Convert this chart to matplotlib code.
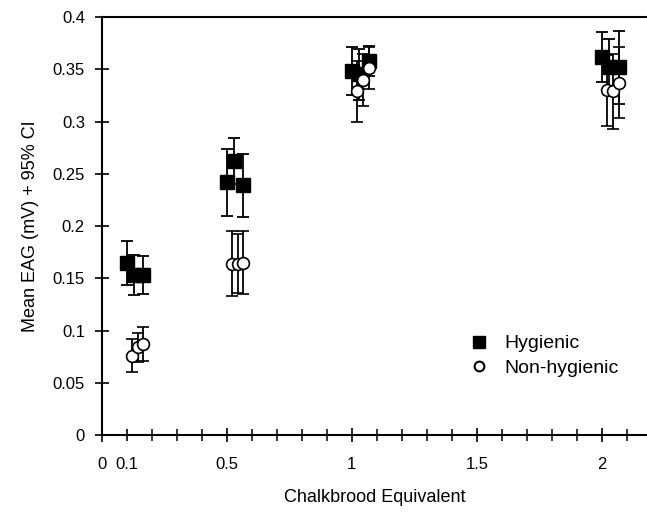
import numpy as np
import matplotlib.pyplot as plt
from matplotlib.lines import Line2D
from matplotlib.ticker import MultipleLocator, FormatStrFormatter

plt.rcParams['font.family'] = ['Liberation Sans', 'DejaVu Sans']

# chalkbrood equivalent levels, 3 replicates each (plotted side by side)
levels = [0.1, 0.5, 1, 2]
hyg_shift = [0.0, 0.03, 0.067]
nonhyg_shift = [0.022, 0.045, 0.067]

hyg_mean = [0.165, 0.153, 0.153, 0.242, 0.262, 0.239, 0.348, 0.345, 0.358, 0.362, 0.352, 0.352]
hyg_ci = [0.021, 0.019, 0.018, 0.032, 0.022, 0.030, 0.023, 0.024, 0.014, 0.024, 0.027, 0.035]

nonhyg_mean = [0.076, 0.084, 0.087, 0.164, 0.164, 0.165, 0.329, 0.340, 0.351, 0.330, 0.329, 0.337]
nonhyg_ci = [0.016, 0.014, 0.016, 0.031, 0.028, 0.030, 0.029, 0.025, 0.020, 0.034, 0.036, 0.034]

hyg_x = np.repeat(levels, 3) + np.tile(hyg_shift, len(levels))
nonhyg_x = np.repeat(levels, 3) + np.tile(nonhyg_shift, len(levels))

fig = plt.figure(figsize=(6.47, 5.15), dpi=100)
ax = fig.add_axes([0.157, 0.155, 0.843, 0.812])

ax.errorbar(hyg_x, hyg_mean, yerr=hyg_ci, fmt='s', color='black', ms=9.5,
            ecolor='black', elinewidth=1.3, capsize=4.5, capthick=1.3, zorder=2)
ax.errorbar(nonhyg_x, nonhyg_mean, yerr=nonhyg_ci, fmt='o', mfc='white', mec='black',
            mew=1.2, ms=8.5, ecolor='black', elinewidth=1.3, capsize=4.5, capthick=1.3,
            zorder=3)

ax.set_xlim(0, 2.18)
ax.set_ylim(0, 0.4)

ax.set_xticks([0, 0.1, 0.5, 1, 1.5, 2])
ax.set_xticklabels(['0', '0.1', '0.5', '1', '1.5', '2'])
ax.xaxis.set_minor_locator(MultipleLocator(0.1))
ax.yaxis.set_major_locator(MultipleLocator(0.05))
ax.yaxis.set_major_formatter(FormatStrFormatter('%g'))

ax.tick_params(axis='both', which='major', direction='inout', length=10, width=1.2,
               labelsize=12, colors='black')
ax.tick_params(axis='x', which='major', pad=11)
ax.tick_params(axis='y', which='major', pad=7)
ax.tick_params(axis='x', which='minor', direction='inout', length=8, width=1.1)
ax.xaxis.get_major_ticks()[1].tick1line.set_markersize(8)

for s in ['left', 'bottom', 'top']:
    ax.spines[s].set_linewidth(1.5)
ax.spines['right'].set_visible(False)

ax.set_xlabel('Chalkbrood Equivalent', fontsize=13, labelpad=12)
ax.set_ylabel('Mean EAG (mV) + 95% CI', fontsize=13, labelpad=10)

handles = [Line2D([], [], ls='none', marker='s', color='black', ms=9),
           Line2D([], [], ls='none', marker='o', mfc='white', mec='black', mew=1.5, ms=7)]
ax.legend(handles, ['Hygienic', 'Non-hygienic'], loc='center left',
          bbox_to_anchor=(0.645, 0.19), frameon=False, fontsize=14,
          handlelength=0.8, handletextpad=0.9, labelspacing=0.35)

plt.savefig('out.png', dpi=100)
